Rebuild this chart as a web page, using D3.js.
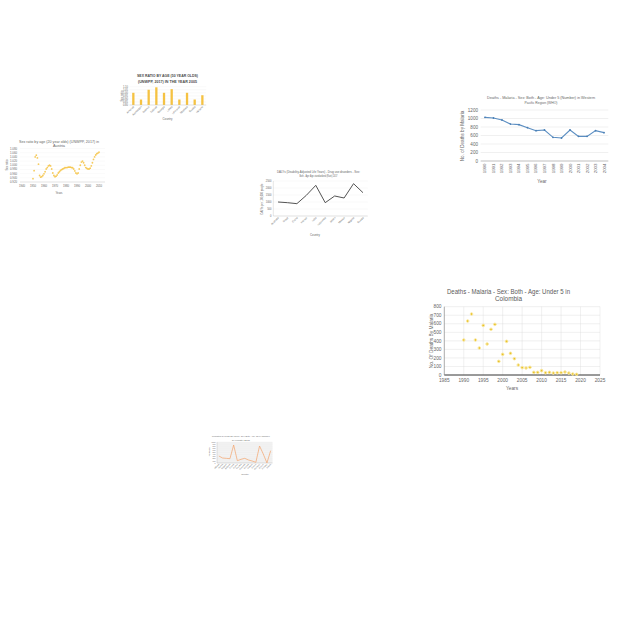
<!DOCTYPE html>
<html><head><meta charset="utf-8">
<script src="https://cdn.jsdelivr.net/npm/d3@7"></script>
<style>
body{margin:0;background:#fff}
svg{display:block}
text{font-family:"Liberation Sans",Arial,sans-serif;fill:#666}
</style>
</head><body><svg id="c" width="640" height="640"></svg>
<script>
// ---------- DATA ----------
// Chart 1: bar chart, sex ratio (50 year olds) 2005
const barCategories = ["Armenia","Azerbaijan","Belarus","Estonia","Georgia","Latvia","Lithuania","Moldova","Russia","Ukraine"];
const barValues = [1.00,0.89,1.05,1.09,1.00,1.06,0.89,1.00,0.89,0.96];
const barTicks = [0.80,0.85,0.90,0.95,1.00,1.05,1.10];

// Chart 2: Austria sex ratio (20 year olds)
const austriaYears = [1950,1951,1952,1953,1954,1955,1956,1957,1958,1959,1960,1961,1962,1963,1964,1965,1966,1967,1968,1969,1970,1971,1972,1973,1974,1975,1976,1977,1978,1979,1980,1981,1982,1983,1984,1985,1986,1987,1988,1989,1990,1991,1992,1993,1994,1995,1996,1997,1998,1999,2000,2001,2002,2003,2004,2005,2006,2007,2008,2009,2010];
const austriaValues = [0.936,0.974,1.040,1.048,1.035,1.005,0.951,0.943,0.946,0.951,0.959,0.969,0.982,0.989,0.997,1.000,0.997,0.982,0.963,0.951,0.945,0.948,0.954,0.963,0.969,0.975,0.979,0.982,0.985,0.988,0.989,0.989,0.991,0.991,0.991,0.989,0.988,0.982,0.973,0.963,0.959,0.963,0.982,1.000,1.015,1.020,1.012,1.000,0.989,0.985,0.982,0.982,0.986,0.997,1.012,1.028,1.040,1.049,1.055,1.058,1.062];
const austriaXTicks = [1940,1950,1960,1970,1980,1990,2000,2010];
const austriaYTicks = [0.92,0.94,0.96,0.98,1.00,1.02,1.04,1.06,1.08];

// Chart 3: malaria deaths under 5, Western Pacific
const wpYears = ["1990","1991","1992","1993","1994","1995","1996","1997","1998","1999","2000","2001","2002","2003","2004"];
const wpDeaths = [1027,1012,965,870,855,784,714,729,557,541,729,580,580,714,667];
const wpTicks = [0,200,400,600,800,1000,1200];

// Chart 4: DALYs line by country
const dalyCountries = ["Australia","Brazil","China","France","India","Indonesia","Japan","Mexico","Nigeria","Russia"];
const dalyValues = [1000,952,881,1476,2190,952,1429,1286,2310,1667];
const dalyTicks = [0,500,1000,1500,2000,2500];

// Chart 5: Colombia malaria deaths under 5
const colYears = [1990,1991,1992,1993,1994,1995,1996,1997,1998,1999,2000,2001,2002,2003,2004,2005,2006,2007,2008,2009,2010,2011,2012,2013,2014,2015,2016,2017,2018,2019];
const colDeaths = [410,632,714,410,316,581,363,535,593,160,242,394,254,191,117,86,82,90,31,31,51,27,31,23,27,27,35,23,12,8];
const colXTicks = [1985,1990,1995,2000,2005,2010,2015,2020,2025];
const colYTicks = [0,100,200,300,400,500,600,700,800];

// Chart 6: small orange line by country
const orCountries = ["Albania","Austria","Belgium","Bulgaria","Croatia","Cyprus","Czechia","Denmark","Estonia","Finland","France","Germany","Greece","Hungary","Ireland"];
const orValues = [333,238,222,205,857,110,176,222,143,95,33,810,429,5,586];
const orTicks = [0,100,200,300,400,500,600,700,800,900,1000];

// ---------- DRAWING ----------
const svg = d3.select("#c");
svg.append("rect").attr("width",640).attr("height",640).attr("fill","#fff");
const GRID = "#d9d9d9", AXIS = "#bfbfbf";

function titleLines(g, lines, cx, ys, size, widths, weight, color) {
  lines.forEach((t,i) => {
    g.append("text").attr("x",cx).attr("y",ys[i]).attr("text-anchor","middle")
      .attr("font-size",size).attr("font-weight",weight||"normal")
      .attr("textLength",widths[i]).attr("lengthAdjust","spacingAndGlyphs")
      .style("fill",color||"#666").text(t);
  });
}
function rotLabel(g, t, x, y, size, angle, anchor) {
  g.append("text").attr("transform",`translate(${x},${y}) rotate(${angle})`)
    .attr("text-anchor",anchor||"end").attr("font-size",size).text(t);
}

// ===== Chart 1: bars =====
{
  const g = svg.append("g");
  const x = d3.scaleBand().domain(barCategories).range([129.5,206.2]).paddingInner(0.7).paddingOuter(0.35);
  const y = d3.scaleLinear().domain([0.8,1.1]).range([105,86.7]);
  g.selectAll(".gr").data(barTicks).join("line")
    .attr("x1",129.5).attr("x2",206.2).attr("y1",d=>y(d)).attr("y2",d=>y(d))
    .attr("stroke","#ececec").attr("stroke-width",0.3);
  g.selectAll(".yl").data(barTicks).join("text")
    .attr("x",128).attr("y",d=>y(d)+0.9).attr("text-anchor","end").attr("font-size",2.6)
    .text(d3.format(".2f"));
  g.selectAll(".bar").data(barCategories).join("rect")
    .attr("x",d=>x(d)).attr("width",x.bandwidth())
    .attr("y",(d,i)=>y(barValues[i])).attr("height",(d,i)=>y(0.8)-y(barValues[i]))
    .attr("fill","#f5c242");
  g.append("line").attr("x1",129.5).attr("x2",206.2).attr("y1",105).attr("y2",105).attr("stroke",AXIS).attr("stroke-width",0.4);
  barCategories.forEach(c => rotLabel(g, c, x(c)+x.bandwidth()/2+1, 107, 2.6, -45));
  titleLines(g, ["SEX RATIO BY AGE (50 YEAR OLDS)","(UNWPP, 2017) IN THE YEAR 2005"], 167.5, [77.2,82.6], 4.3, [61,59], "bold", "#4a4a4a");
  g.append("text").attr("x",167.5).attr("y",120).attr("text-anchor","middle").attr("font-size",2.8).text("Country");
  rotLabel(g, "Sex ratio", 123, 96, 2.8, -90, "middle");
}

// ===== Chart 2: Austria scatter =====
{
  const g = svg.append("g");
  const x = d3.scaleLinear().domain([1940,2010]).range([22,99]);
  const y = d3.scaleLinear().domain([0.92,1.08]).range([182,148.5]);
  g.selectAll(".gr").data(austriaYTicks).join("line")
    .attr("x1",20).attr("x2",105).attr("y1",d=>y(d)).attr("y2",d=>y(d))
    .attr("stroke","#eeeeee").attr("stroke-width",0.3);
  g.append("line").attr("x1",20).attr("x2",105).attr("y1",182).attr("y2",182).attr("stroke",AXIS).attr("stroke-width",0.4);
  g.selectAll(".yl").data(austriaYTicks).join("text")
    .attr("x",17).attr("y",d=>y(d)+1).attr("text-anchor","end").attr("font-size",2.8)
    .text(d3.format(".3f"));
  g.selectAll(".xl").data(austriaXTicks).join("text")
    .attr("x",d=>x(d)).attr("y",187).attr("text-anchor","middle").attr("font-size",2.8).text(d=>d);
  g.selectAll(".pt").data(austriaYears).join("circle")
    .attr("cx",d=>x(d)).attr("cy",(d,i)=>y(austriaValues[i])).attr("r",0.9)
    .attr("fill","#f5c242").attr("fill-opacity",0.85);
  titleLines(g, ["Sex ratio by age (20 year olds) (UNWPP, 2017) in","Austria"], 59, [142.5,147.2], 3.6, [80,12]);
  g.append("text").attr("x",59).attr("y",193.5).attr("text-anchor","middle").attr("font-size",2.8).text("Years");
  rotLabel(g, "Sex ratio", 8, 165, 2.8, -90, "middle");
}

// ===== Chart 3: Western Pacific line =====
{
  const g = svg.append("g");
  const x = d3.scaleBand().domain(wpYears).range([480.7,608.3]);
  const y = d3.scaleLinear().domain([0,1200]).range([161,110]);
  g.selectAll(".gr").data(wpTicks).join("line")
    .attr("x1",480.7).attr("x2",608.3).attr("y1",d=>y(d)).attr("y2",d=>y(d))
    .attr("stroke",GRID).attr("stroke-width",0.4);
  g.append("line").attr("x1",480.7).attr("x2",608.3).attr("y1",161).attr("y2",161).attr("stroke","#a6a6a6").attr("stroke-width",0.6);
  g.selectAll(".yl").data(wpTicks).join("text")
    .attr("x",478).attr("y",d=>y(d)+1.6).attr("text-anchor","end").attr("font-size",4.6).text(d=>d);
  wpYears.forEach(yr => rotLabel(g, yr, x(yr)+x.bandwidth()/2+1.5, 163.5, 4.4, -90, "end"));
  const line = d3.line().x((d,i)=>x(wpYears[i])+x.bandwidth()/2).y(d=>y(d));
  g.append("path").datum(wpDeaths).attr("d",line).attr("fill","none").attr("stroke","#5b8ec2").attr("stroke-width",1.1);
  g.selectAll(".pt").data(wpDeaths).join("circle")
    .attr("cx",(d,i)=>x(wpYears[i])+x.bandwidth()/2).attr("cy",d=>y(d)).attr("r",0.9).attr("fill","#4a7fb5");
  titleLines(g, ["Deaths - Malaria - Sex: Both - Age: Under 5 (Number) in Western","Pacific Region (WHO)"], 541, [98.5,104.2], 4.4, [108,33]);
  g.append("text").attr("x",542).attr("y",183).attr("text-anchor","middle").attr("font-size",4.6).text("Year");
  rotLabel(g, "No. of Deaths by Malaria", 464, 136, 4.6, -90, "middle");
}

// ===== Chart 4: DALYs black line =====
{
  const g = svg.append("g");
  const x = d3.scaleBand().domain(dalyCountries).range([273.3,367.7]);
  const y = d3.scaleLinear().domain([0,2500]).range([216,181]);
  g.selectAll(".gr").data(dalyTicks).join("line")
    .attr("x1",273.3).attr("x2",367.7).attr("y1",d=>y(d)).attr("y2",d=>y(d))
    .attr("stroke","#e6e6e6").attr("stroke-width",0.3);
  g.append("line").attr("x1",273.3).attr("x2",273.3).attr("y1",181).attr("y2",216).attr("stroke",AXIS).attr("stroke-width",0.4);
  g.append("line").attr("x1",273.3).attr("x2",367.7).attr("y1",216).attr("y2",216).attr("stroke",AXIS).attr("stroke-width",0.4);
  g.selectAll(".yl").data(dalyTicks).join("text")
    .attr("x",271.5).attr("y",d=>y(d)+0.9).attr("text-anchor","end").attr("font-size",2.6).text(d=>d);
  dalyCountries.forEach(c => rotLabel(g, c, x(c)+x.bandwidth()/2+1, 218, 2.6, -45));
  const line = d3.line().x((d,i)=>x(dalyCountries[i])+x.bandwidth()/2).y(d=>y(d));
  g.append("path").datum(dalyValues).attr("d",line).attr("fill","none").attr("stroke","#404040").attr("stroke-width",0.9);
  titleLines(g, ["DALYs (Disability-Adjusted Life Years) - Drug use disorders - Sex:","Both - Age: Age-standardized (Rate) 2017"], 318.5, [172.8,176.8], 3.2, [83,38]);
  g.append("text").attr("x",315).attr("y",236).attr("text-anchor","middle").attr("font-size",2.8).text("Country");
  rotLabel(g, "DALYs per 100,000 people", 263, 199, 2.6, -90, "middle");
}

// ===== Chart 5: Colombia scatter =====
{
  const g = svg.append("g");
  const x = d3.scaleLinear().domain([1985,2025]).range([444.3,600]);
  const y = d3.scaleLinear().domain([0,800]).range([375,306.7]);
  g.selectAll(".gy").data(colYTicks).join("line")
    .attr("x1",444.3).attr("x2",600).attr("y1",d=>y(d)).attr("y2",d=>y(d))
    .attr("stroke",GRID).attr("stroke-width",0.4);
  g.selectAll(".gx").data(colXTicks).join("line")
    .attr("x1",d=>x(d)).attr("x2",d=>x(d)).attr("y1",306.7).attr("y2",375)
    .attr("stroke",GRID).attr("stroke-width",0.4);
  g.append("line").attr("x1",444.3).attr("x2",600).attr("y1",375).attr("y2",375).attr("stroke","#262626").attr("stroke-width",0.9);
  g.append("line").attr("x1",444.3).attr("x2",444.3).attr("y1",306.7).attr("y2",375).attr("stroke","#7f7f7f").attr("stroke-width",0.6);
  g.selectAll(".yl").data(colYTicks).join("text")
    .attr("x",441.5).attr("y",d=>y(d)+1.7).attr("text-anchor","end").attr("font-size",4.8).text(d=>d);
  g.selectAll(".xl").data(colXTicks).join("text")
    .attr("x",d=>x(d)).attr("y",381.5).attr("text-anchor","middle").attr("font-size",4.8).text(d=>d);
  g.selectAll(".pt").data(colYears).join("circle")
    .attr("cx",d=>x(d)).attr("cy",(d,i)=>y(colDeaths[i])).attr("r",1.3)
    .attr("fill","#e8c22a").attr("stroke","#fbeaa6").attr("stroke-width",1);
  titleLines(g, ["Deaths - Malaria - Sex: Both - Age: Under 5 in","Colombia"], 508.5, [293.5,301], 7.2, [123,27], "normal", "#5a5a5a");
  g.append("text").attr("x",512).attr("y",390).attr("text-anchor","middle").attr("font-size",4.8).text("Years");
  rotLabel(g, "No. Of Deaths By Malaria", 432.5, 341, 4.8, -90, "middle");
}

// ===== Chart 6: small orange line =====
{
  const g = svg.append("g");
  const x = d3.scaleBand().domain(orCountries).range([217,272.5]);
  const y = d3.scaleLinear().domain([0,1000]).range([463,442]);
  g.append("rect").attr("x",217).attr("y",442).attr("width",55.5).attr("height",21).attr("fill","#f2f2f2");
  g.selectAll(".gr").data(orTicks).join("line")
    .attr("x1",217).attr("x2",272.5).attr("y1",d=>y(d)).attr("y2",d=>y(d))
    .attr("stroke","#e4e4e4").attr("stroke-width",0.2);
  g.append("line").attr("x1",217).attr("x2",217).attr("y1",442).attr("y2",463).attr("stroke","#999").attr("stroke-width",0.3);
  g.append("line").attr("x1",217).attr("x2",272.5).attr("y1",463).attr("y2",463).attr("stroke","#999").attr("stroke-width",0.3);
  g.selectAll(".yl").data(orTicks).join("text")
    .attr("x",215.5).attr("y",d=>y(d)+0.6).attr("text-anchor","end").attr("font-size",1.8).text(d=>d);
  orCountries.forEach(c => rotLabel(g, c, x(c)+x.bandwidth()/2+0.6, 464.5, 1.9, -45));
  const line = d3.line().x((d,i)=>x(orCountries[i])+x.bandwidth()/2).y(d=>y(d));
  g.append("path").datum(orValues).attr("d",line).attr("fill","none").attr("stroke","#f4a36c").attr("stroke-width",0.7);
  titleLines(g, ["Population by broad age group - Sex: Both - Age: 15-64 (Number)","by country 2017"], 241, [436.5,440.5], 2.2, [58,18]);
  g.append("text").attr("x",245).attr("y",474.5).attr("text-anchor","middle").attr("font-size",2.2).text("Country");
  rotLabel(g, "Population", 209.5, 452, 1.9, -90, "middle");
}
</script></body></html>
